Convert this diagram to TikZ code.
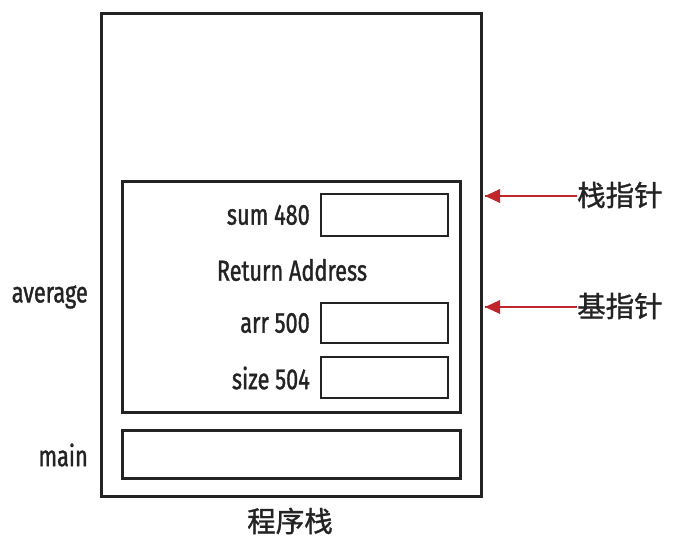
\documentclass[tikz,border=0pt]{standalone}
\usepackage{fontspec}
\setmainfont[FakeStretch=0.75, FakeBold=1.2]{Fira Sans}
\newfontfamily\cjk[FakeBold=1.2]{Noto Sans CJK SC}
\definecolor{ptrred}{RGB}{192,39,45}
\definecolor{ink}{RGB}{35,35,35}

\begin{document}
\begin{tikzpicture}[x=1pt,y=-1pt]
    \tikzstyle{every node}+=[inner sep=0pt, text=ink, font=\fontsize{29}{31}\selectfont]
    \tikzstyle{frame}=[draw=ink, line width=3pt, rectangle]
    \tikzstyle{cell}=[draw=ink, line width=2.6pt, rectangle, minimum width=127pt]
    \useasboundingbox (0,0) rectangle (685,540);
    \node [frame, minimum width=380pt, minimum height=482pt] (stack) at (291,255) {};
    \node [frame, minimum width=338pt, minimum height=230pt] (avg) at (291,297) {};
    \node [frame, minimum width=338pt, minimum height=48pt] (mainf) at (291,454) {};
    \node [cell, minimum height=42pt] (sum) at (384.5,215) {};
    \node [cell, minimum height=40pt] (arr) at (384.5,323) {};
    \node [cell, minimum height=41pt] (size) at (384.5,377.5) {};
    \node [anchor=east] (sumlbl) at (310,215) {sum 480};
    \node (ret) at (292,270) {Return Address};
    \node [anchor=east] (arrlbl) at (310,323) {arr 500};
    \node [anchor=east] (sizelbl) at (310,378) {size 504};
    \node [anchor=east] (avglbl) at (88,297) {average};
    \node [anchor=east] (mainlbl) at (88,455) {main};
    \node [font=\cjk\fontsize{28.5}{30}\selectfont] (title) at (290,521) {程序栈};
    \node [anchor=west, font=\cjk\fontsize{28.5}{30}\selectfont] (sp) at (577,195) {栈指针};
    \node [anchor=west, font=\cjk\fontsize{28.5}{30}\selectfont] (bp) at (577,306) {基指针};
    \coordinate (sptip) at (485,196);
    \coordinate (bptip) at (485,307);
    \draw [ptrred, line width=2pt] (sp.west |- sptip) -- (sptip);
    \fill [ptrred] (sptip) -- ++(15,-7) -- ++(0,14) -- cycle;
    \draw [ptrred, line width=2pt] (bp.west |- bptip) -- (bptip);
    \fill [ptrred] (bptip) -- ++(15,-7) -- ++(0,14) -- cycle;
\end{tikzpicture}
\end{document}
